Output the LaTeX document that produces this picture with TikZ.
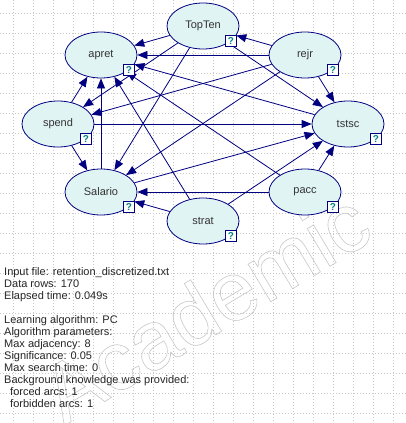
\documentclass[tikz,border=0pt]{standalone}
\usepackage{fontspec}
\setmainfont{Liberation Sans}
\usetikzlibrary{shapes.geometric,arrows.meta}
\definecolor{marino}{RGB}{0,0,128}
\definecolor{celeste}{RGB}{225,244,244}
\definecolor{verdeazul}{RGB}{0,128,128}
\definecolor{rejilla}{RGB}{200,200,200}

\begin{document}
\begin{tikzpicture}[x=1pt,y=-1pt,font=\fontsize{11}{12}\selectfont,>={Triangle[length=10pt,width=8pt]},
  var/.style={ellipse,draw=marino,fill=celeste,line width=0.8pt,minimum width=72pt,minimum height=46pt,inner sep=0pt,text=black!80},
  qbox/.style={draw=marino,fill=white,line width=0.7pt,minimum size=11pt,inner sep=0pt,text=verdeazul,font=\fontsize{10}{10}\selectfont\bfseries},
  arco/.style={->,marino,line width=0.8pt},
  rayas/.style={rejilla,dash pattern=on 1pt off 2pt,line width=0.6pt}]
  \useasboundingbox (0,0) rectangle (406,423);
  \fill[white] (0,0) rectangle (406,423);
  \foreach \g in {0,...,20} {
    \draw[rayas] (13.3+20*\g,0) -- (13.3+20*\g,423);
    \draw[rayas] (0,13.3+20*\g) -- (406,13.3+20*\g);
  }
  % marca de agua
  \node[anchor=base west,rotate=31,inner sep=0pt,text=rejilla,font=\fontsize{83}{83}\selectfont] (marca) at (64,426)
    {\special{pdf:literal direct 1 Tr 0.6 w}Academic\special{pdf:literal direct 0 Tr}};

  \node[var] (TopTen) at (203,26) {TopTen};
  \node[var] (apret) at (101,55) {apret};
  \node[var] (rejr) at (305,55) {rejr};
  \node[var] (spend) at (58,124) {spend};
  \node[var] (tstsc) at (348,124) {tstsc};
  \node[var] (Salario) at (101,192) {Salario};
  \node[var] (pacc) at (305,192) {pacc};
  \node[var] (strat) at (203,221) {strat};

  \draw[arco] (rejr) -- (TopTen);
  \draw[arco] (rejr) -- (apret);
  \draw[arco] (rejr) -- (spend);
  \draw[arco] (rejr) -- (Salario);
  \draw[arco] (rejr) -- (tstsc);
  \draw[arco] (TopTen) -- (apret);
  \draw[arco] (TopTen) -- (spend);
  \draw[arco] (TopTen) -- (Salario);
  \draw[arco] (TopTen) -- (tstsc);
  \draw[arco] (spend) -- (apret);
  \draw[arco] (spend) -- (tstsc);
  \draw[arco] (spend) -- (Salario);
  \draw[arco] (Salario) -- (apret);
  \draw[arco] (Salario) -- (tstsc);
  \draw[arco] (strat) -- (apret);
  \draw[arco] (strat) -- (Salario);
  \draw[arco] (strat) -- (tstsc);
  \draw[arco] (pacc) -- (apret);
  \draw[arco] (pacc) -- (Salario);
  \draw[arco] (pacc) -- (tstsc);
  \draw[arco] (tstsc) -- (apret);

  \foreach \v in {TopTen,apret,rejr,spend,tstsc,Salario,pacc,strat}
    \node[qbox] (q\v) at ([shift={(28,15)}]\v.center) {?};

  \node[anchor=north west,align=left,inner sep=0pt,text=black!85] (info) at (4,267)
    {Input file: retention\_discretized.txt\\
     Data rows: 170\\
     Elapsed time: 0.049s\\[12pt]
     Learning algorithm: PC\\
     Algorithm parameters:\\
     Max adjacency: 8\\
     Significance: 0.05\\
     Max search time: 0\\
     Background knowledge was provided:\\
     \hspace*{6pt}forced arcs: 1\\
     \hspace*{6pt}forbidden arcs: 1};
\end{tikzpicture}
\end{document}
